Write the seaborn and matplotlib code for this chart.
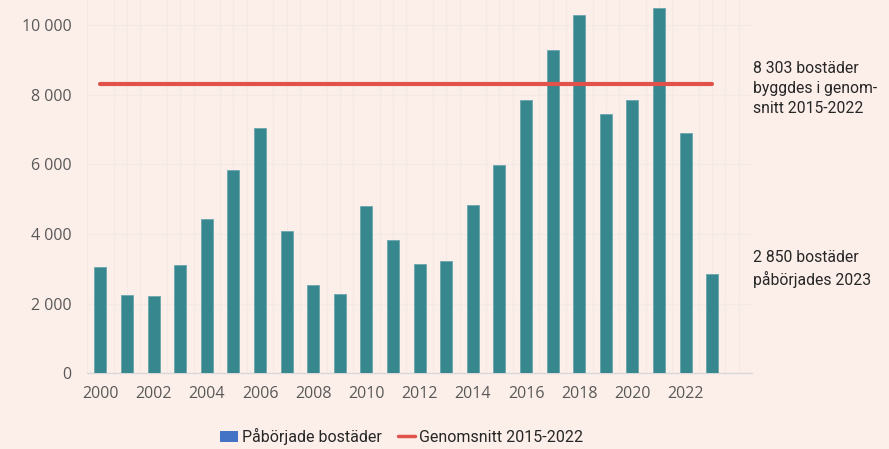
import matplotlib as mpl
import matplotlib.pyplot as plt
import seaborn as sns
import pandas as pd
import numpy as np
from matplotlib.patches import Patch
from matplotlib.lines import Line2D

# Data
years = list(range(2000, 2024))
started = [3050, 2240, 2210, 3100, 4430, 5830, 7040, 4080, 2530, 2270,
           4800, 3820, 3130, 3220, 4830, 5980, 7840, 9280, 10290, 7440,
           7840, 10490, 6900, 2850]
avg_2015_2022 = 8303
avg_years = (2000, 2023)

BG = '#fcefea'
BAR = '#37878f'
RED = '#e0524a'
GREY = '#595959'

sns.set_theme(style="white", rc={'figure.facecolor': BG, 'axes.facecolor': BG})
plt.rcParams['font.family'] = ['Open Sans', 'DejaVu Sans']

df = pd.DataFrame({"Year": [str(y) for y in years], "Started": started})

fig = plt.figure(figsize=(8.89, 4.49), dpi=100)
ax = fig.add_axes([0.098, 0.169, 0.748, 0.831])

sns.barplot(data=df, x="Year", y="Started", color=BAR, width=0.45, saturation=1,
            edgecolor='#6aa6ad', linewidth=0.6, ax=ax, zorder=3)

# Average line
pos = [years.index(avg_years[0]), years.index(avg_years[1])]
sns.lineplot(x=pos, y=[avg_2015_2022, avg_2015_2022], color=RED, linewidth=3, ax=ax, zorder=4)

# Axes
ax.set_xlim(-0.5, 24.5)
ax.set_ylim(0, 10720)
ax.set_xlabel('')
ax.set_ylabel('')
ax.set_xticks(range(0, len(years), 2), [str(y) for y in years[::2]], fontsize=11.5, color=GREY)
ax.set_xticks(np.arange(-0.5, 24.51, 0.5), minor=True)
yt = np.arange(0, 10001, 2000)
ax.set_yticks(yt, [f"{v:,}".replace(',', ' ') for v in yt], fontsize=11.5, color=GREY)
ax.tick_params(axis='both', which='both', length=0)
ax.tick_params(axis='x', pad=9)
ax.tick_params(axis='y', pad=11)
ax.grid(axis='x', which='minor', color='#f4e9e6', linewidth=0.9, zorder=0)
ax.grid(axis='y', which='major', color='#f4e9e6', linewidth=0.9, zorder=0)
for s in ['top', 'right', 'left']:
    ax.spines[s].set_visible(False)
ax.spines['bottom'].set_color('#d9d9d9')
ax.spines['bottom'].set_linewidth(1)

# Annotations
fig.text(0.847, 0.803, "8 303 bostäder\nbyggdes i genom-\nsnitt 2015-2022", fontsize=11.3,
         family='Roboto', color='#262626', va='center', ha='left', linespacing=1.45)
fig.text(0.847, 0.401, "2 850 bostäder\npåbörjades 2023", fontsize=11.3,
         family='Roboto', color='#262626', va='center', ha='left', linespacing=1.45)

# Legend
handles = [Patch(facecolor='#4472c4', edgecolor='none'),
           Line2D([0], [0], color=RED, linewidth=2.5)]
fig.legend(handles=handles, labels=['Påbörjade bostäder', 'Genomsnitt 2015-2022'],
           loc='center', bbox_to_anchor=(0.452, 0.028), ncol=2, frameon=False,
           prop={'family': 'Roboto', 'size': 11.5}, handlelength=1.1, handleheight=0.7,
           handletextpad=0.25, columnspacing=1.0, labelcolor='#262626')

plt.savefig("out.png", dpi=100, facecolor=BG)
